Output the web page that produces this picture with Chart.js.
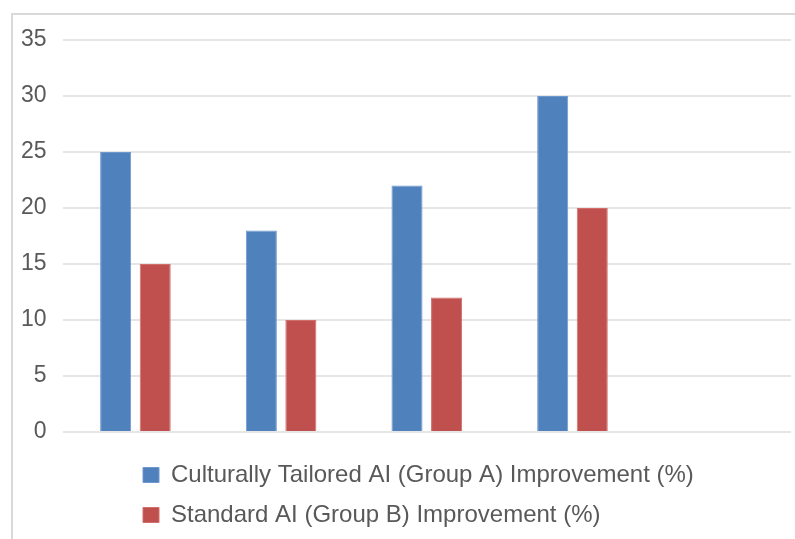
<!DOCTYPE html>
<html>
<head>
<meta charset="utf-8">
<script src="https://cdn.jsdelivr.net/npm/chart.js@4"></script>
<style>
    html, body { margin: 0; padding: 0; background: #fff; }
    body { width: 795px; height: 539px; position: relative; overflow: hidden; }
    #frame {
        position: absolute; left: 11px; top: 13px; width: 820px; height: 560px;
        border-left: 2px solid #d9d9d9; border-top: 2px solid #d9d9d9;
    }
    #wrap { position: absolute; left: 0; top: 0; width: 795px; height: 539px; }
</style>
</head>
<body>
<div id="frame"></div>
<div id="wrap"><canvas id="chart"></canvas></div>
<script>
// chart data
const categories = ['', '', '', '', ''];
const groupA = [25, 18, 22, 30, null];
const groupB = [15, 10, 12, 20, null];
const yTicks = { min: 0, max: 35, step: 5 };
const seriesNames = [
    'Culturally Tailored AI (Group A) Improvement (%)',
    'Standard AI (Group B) Improvement (%)'
];

// the reference legend is left aligned under the bars, not under the canvas edge
const legendShift = {
    id: 'legendShift',
    afterLayout(chart) {
        const legend = chart.legend;
        legend.left = 127;
        legend.top = 447;
        legend.bottom = 539;
    }
};

document.addEventListener('DOMContentLoaded', () => {
    const ctx = document.getElementById('chart').getContext('2d');
    new Chart(ctx, {
        type: 'bar',
        data: {
            labels: categories,
            datasets: [{
                label: seriesNames[0],
                data: groupA,
                backgroundColor: '#4F81BD',
                borderColor: '#6E98CC',
                borderWidth: 1
            }, {
                label: seriesNames[1],
                data: groupB,
                backgroundColor: '#C0504D',
                borderColor: '#CF6E6B',
                borderWidth: 1
            }]
        },
        options: {
            responsive: true,
            maintainAspectRatio: false,
            animation: false,
            categoryPercentage: 0.543,
            barPercentage: 0.785,
            layout: {
                padding: { left: 5, right: 4, top: 40, bottom: 9 }
            },
            scales: {
                x: {
                    grid: { display: false },
                    border: { display: false },
                    ticks: { display: false }
                },
                y: {
                    min: yTicks.min,
                    max: yTicks.max,
                    border: { display: false },
                    grid: { color: '#e6e6e6', lineWidth: 2, drawTicks: false },
                    ticks: {
                        stepSize: yTicks.step,
                        padding: 16,
                        color: '#595959',
                        font: { family: '"Liberation Sans", Arial, sans-serif', size: 23 }
                    }
                }
            },
            plugins: {
                legend: {
                    position: 'bottom',
                    align: 'start',
                    labels: {
                        boxWidth: 16,
                        boxHeight: 15,
                        padding: 16,
                        color: '#595959',
                        font: { family: '"Liberation Sans", Arial, sans-serif', size: 24 }
                    }
                },
                tooltip: { enabled: false }
            }
        },
        plugins: [legendShift]
    });
});
</script>
</body>
</html>
